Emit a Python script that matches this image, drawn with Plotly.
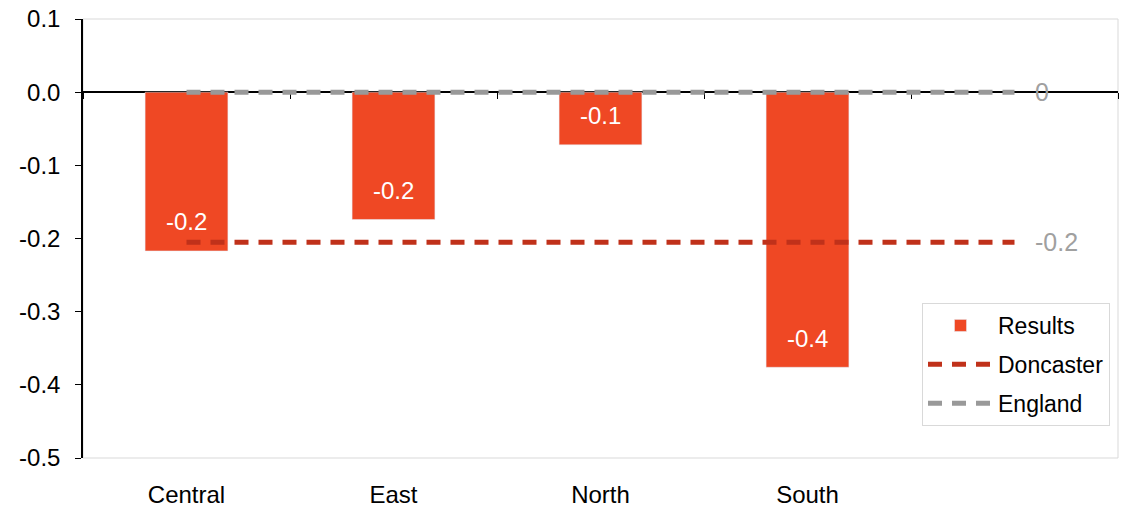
import plotly.graph_objects as go

categories = ["Central", "East", "North", "South", " "]
bar_categories = ["Central", "East", "North", "South"]
results = [-0.217, -0.174, -0.072, -0.376]
doncaster = [-0.205, -0.205, -0.205, -0.205, -0.205]
england = [0.0, 0.0, 0.0, 0.0, 0.0]
y_ticks = [0.1, 0.0, -0.1, -0.2, -0.3, -0.4, -0.5]
y_tick_labels = [f"{t:.1f}" for t in y_ticks]

BAR = "#EF4824"
DON = "#C0311A"
ENG = "#999999"
FONT = "Liberation Sans, Arial, sans-serif"
y_min, y_max = -0.5, 0.1

fig = go.Figure()
fig.add_trace(go.Bar(x=bar_categories, y=results, name="Results", marker_color=BAR,
                     width=0.4, xaxis="x", yaxis="y", legendgroup="a"))
fig.add_trace(go.Scatter(x=categories, y=doncaster, name="Doncaster", mode="lines",
                         line=dict(color=DON, width=5, dash="14px,10px"),
                         xaxis="x2", yaxis="y", legendgroup="b"))
fig.add_trace(go.Scatter(x=categories, y=england, name="England", mode="lines",
                         line=dict(color=ENG, width=5, dash="14px,10px"),
                         xaxis="x2", yaxis="y", legendgroup="c"))

ann = []
for c, v in zip(bar_categories, results):
    ann.append(dict(x=c, y=v, xref="x", yref="y", text=f"{v:.1f}", showarrow=False,
                    yshift=29, font=dict(color="white", size=24, family=FONT)))
for series in (doncaster, england):
    v = series[-1]
    ann.append(dict(x=categories[-1], y=v, xref="x2", yref="y", text="%g" % round(v, 1),
                    showarrow=False, xanchor="left", xshift=18,
                    font=dict(color="#A0A0A0", size=25, family=FONT)))

fig.update_layout(
    width=1138, height=507,
    margin=dict(l=83, r=20, t=19, b=49, autoexpand=False),
    paper_bgcolor="white", plot_bgcolor="white",
    font=dict(family=FONT, size=24, color="black"),
    annotations=ann,
    showlegend=True,
    legend=dict(x=(922 - 83) / 1035, y=(458 - 303) / 439, xanchor="left", yanchor="top",
                bgcolor="white", bordercolor="#D9D9D9", borderwidth=1,
                font=dict(size=23, family=FONT), tracegroupgap=6, itemwidth=65),
    xaxis=dict(type="category", categoryorder="array", categoryarray=categories,
               range=[-0.5, len(categories) - 0.5], anchor="free",
               position=(0 - y_min) / (y_max - y_min),
               showline=True, linecolor="black", linewidth=1.5,
               ticks="outside", tickson="boundaries", ticklen=6, tickcolor="black",
               showticklabels=False, showgrid=False, zeroline=False, layer="below traces"),
    xaxis2=dict(type="category", categoryorder="array", categoryarray=categories,
                range=[-0.5, len(categories) - 0.5], overlaying="x", anchor="y", side="bottom",
                showline=False, ticks="", showgrid=False, zeroline=False,
                ticklabelstandoff=20, tickfont=dict(size=24)),
    yaxis=dict(range=[y_min, y_max], tickvals=y_ticks, ticktext=y_tick_labels,
               showline=True, linecolor="black", linewidth=1.5,
               ticks="outside", ticklen=6, tickcolor="black",
               showgrid=False, zeroline=False, ticklabelstandoff=10, tickfont=dict(size=24)),
    shapes=[dict(type="rect", xref="paper", yref="paper", x0=0, x1=1, y0=0, y1=1,
                 line=dict(color="#D9D9D9", width=1), layer="below")],
)

fig.write_html("out.html", config={"displayModeBar": False},
               post_script="document.body.style.margin='0';document.body.style.padding='0';")
